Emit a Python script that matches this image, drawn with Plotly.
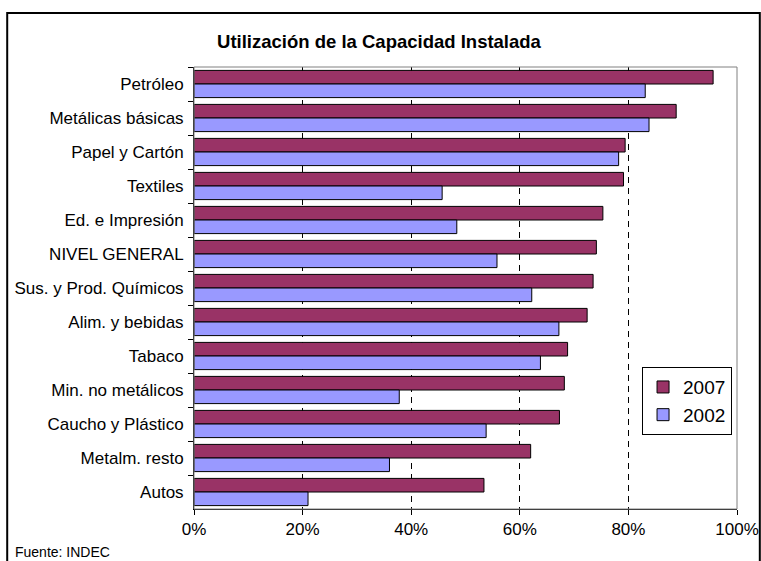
import plotly.graph_objects as go

# datos (porcentaje de utilización)
sectores = ["Petróleo", "Metálicas básicas", "Papel y Cartón", "Textiles",
            "Ed. e Impresión", "NIVEL GENERAL", "Sus. y Prod. Químicos",
            "Alim. y bebidas", "Tabaco", "Min. no metálicos",
            "Caucho y Plástico", "Metalm. resto", "Autos"]
util_2007 = [95.6, 88.8, 79.4, 79.1, 75.3, 74.1, 73.5, 72.4, 68.8, 68.2, 67.3, 62.0, 53.4]
util_2002 = [83.1, 83.8, 78.2, 45.7, 48.4, 55.8, 62.2, 67.2, 63.8, 37.8, 53.8, 36.0, 21.0]
ticks_x = [0, 20, 40, 60, 80, 100]
ticks_txt = ["0%", "20%", "40%", "60%", "80%", "100%"]

FONT = "Liberation Sans, Arial, sans-serif"

fig = go.Figure()
fig.add_trace(go.Bar(y=sectores, x=util_2007, name="2007", orientation="h",
                     marker=dict(color="#993366", line=dict(color="black", width=1))))
fig.add_trace(go.Bar(y=sectores, x=util_2002, name="2002", orientation="h",
                     marker=dict(color="#9999FF", line=dict(color="black", width=1))))

# marco exterior del gráfico y borde gris del área de trazado
fig.add_shape(type="rect", xref="paper", yref="paper",
              x0=-0.344, x1=1.042, y0=-0.15, y1=1.122,
              line=dict(color="black", width=2), layer="below")
fig.add_shape(type="rect", xref="paper", yref="paper",
              x0=0, x1=1, y0=0, y1=1,
              line=dict(color="#808080", width=1), layer="above")

fig.add_annotation(text="Fuente: INDEC", xref="paper", yref="paper",
                   x=-0.334, y=-0.097, xanchor="left", yanchor="middle",
                   showarrow=False, font=dict(family=FONT, size=14, color="black"))

fig.update_layout(
    width=761, height=561,
    margin=dict(l=194, r=24, t=67, b=52, autoexpand=False),
    paper_bgcolor="white", plot_bgcolor="white",
    barmode="group", bargap=0.2, bargroupgap=0,
    font=dict(family=FONT, size=17, color="black"),
    title=dict(text="<b>Utilización de la Capacidad Instalada</b>",
               xref="container", yref="container", x=0.498, y=1 - 42 / 561,
               xanchor="center", yanchor="middle",
               font=dict(family=FONT, size=18.5, color="black")),
    legend=dict(x=0.908, y=0.321, xanchor="center", yanchor="top",
                bgcolor="white", bordercolor="black", borderwidth=1,
                itemwidth=30,
                font=dict(family=FONT, size=19, color="black")),
)

fig.update_xaxes(range=[0, 100], tickvals=ticks_x, ticktext=ticks_txt,
                 showgrid=True, gridcolor="black", gridwidth=1, griddash="6px,5px",
                 showline=True, linecolor="black", linewidth=1,
                 ticks="outside", ticklen=5, tickcolor="black",
                 zeroline=False, fixedrange=True, automargin=False)
fig.update_yaxes(autorange="reversed", showgrid=False,
                 showline=True, linecolor="black", linewidth=1,
                 ticks="outside", ticklen=5, tickcolor="black",
                 tickson="boundaries", ticklabelstandoff=6, fixedrange=True,
                 automargin=False)

fig.write_html("out.html", config={"displayModeBar": False},
               post_script="document.body.style.margin='0';")
